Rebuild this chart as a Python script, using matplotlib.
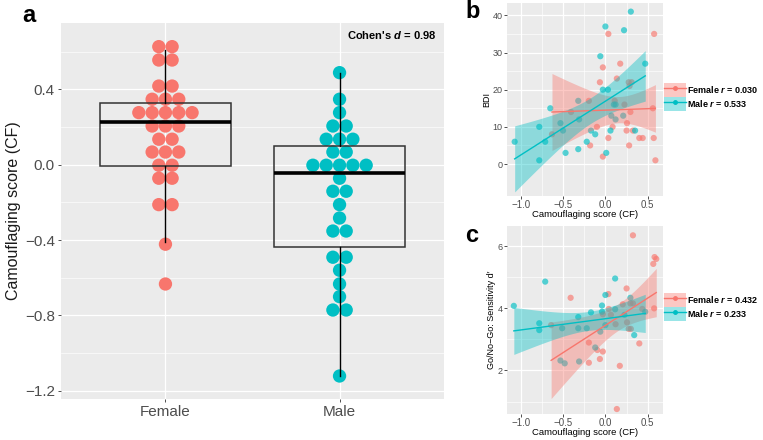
import matplotlib
matplotlib.use("Agg")
import matplotlib.pyplot as plt
from matplotlib.lines import Line2D
from matplotlib.patches import Patch
import numpy as np

plt.rcParams["font.family"] = ["Liberation Sans", "DejaVu Sans"]
plt.rcParams["mathtext.fontset"] = "custom"
plt.rcParams["mathtext.it"] = "Liberation Sans:italic:bold"
plt.rcParams["mathtext.rm"] = "Liberation Sans:bold"

FEMALE_C, MALE_C = "#F8766D", "#00BFC4"
BG, TICK_C = "#EBEBEB", "#4D4D4D"

# ---- panel a: CF score by sex (dotplot + boxplot) ----
groups = ["Female", "Male"]
female_cf = [0.626, 0.626, 0.555, 0.555, 0.417, 0.417, 0.347, 0.347, 0.347,
             0.276, 0.276, 0.276, 0.276, 0.276, 0.205, 0.205, 0.205, 0.135, 0.135,
             0.067, 0.067, 0.067, -0.003, -0.003, -0.072, -0.072, -0.212, -0.212,
             -0.422, -0.633]
male_cf = [0.488, 0.347, 0.276, 0.205, 0.205, 0.135, 0.135, 0.135, 0.067, 0.067,
           -0.003, -0.003, -0.003, -0.003, -0.003, -0.072, -0.141, -0.141, -0.212,
           -0.283, -0.352, -0.352, -0.491, -0.491, -0.560, -0.633, -0.700,
           -0.771, -0.771, -1.121]
box_q1 = [-0.005, -0.438]
box_med = [0.228, -0.042]
box_q3 = [0.326, 0.101]
whisk_lo = [-0.408, -1.121]
whisk_hi = [0.608, 0.488]
cohens_d = 0.98

# ---- panel b: BDI vs CF ----
female_cf_b = [-0.63, -0.405, -0.195, -0.18, -0.10, -0.065, -0.03, -0.03, 0.035, 0.035,
               0.085, 0.11, 0.135, 0.175, 0.225, 0.255, 0.25, 0.275, 0.285, 0.295,
               0.28, 0.31, 0.325, 0.40, 0.44, 0.575, 0.56, 0.57, 0.59]
female_bdi = [8, 14, 17, 5, 10, 22, 26, 2, 35, 7,
              10, 17, 23, 27, 16, 11, 9, 22, 21, 14,
              5, 22, 9, 7, 7, 35, 15, 7, 1]
male_cf_b = [-1.07, -0.78, -0.78, -0.71, -0.65, -0.53, -0.50, -0.47, -0.32, -0.31,
             -0.32, -0.17, -0.12, -0.22, -0.06, 0.0, -0.03, 0.03, 0.01, 0.07,
             0.12, 0.12, 0.06, 0.22, 0.21, 0.30, 0.35, 0.47, 0.10]
male_bdi = [6, 10, 1, 6, 15, 11, 9, 3, 17, 12,
            4, 9, 8, 6, 29, 37, 20, 20, 3, 13,
            12, 16, 9, 36, 13, 41, 9, 27, 16]
r_b = {"Female": 0.030, "Male": 0.533}

# ---- panel c: Go/No-Go sensitivity vs CF ----
female_cf_c = [-0.64, -0.41, -0.195, -0.195, -0.095, -0.065, -0.03, -0.03, 0.035, 0.04,
               0.065, 0.12, 0.17, 0.135, 0.205, 0.25, 0.255, 0.275, 0.30, 0.295,
               0.325, 0.325, 0.40, 0.435, 0.565, 0.58, 0.60, 0.575]
female_dprime = [3.46, 4.34, 2.90, 2.25, 2.66, 2.37, 2.61, 3.81, 4.46, 3.98,
                 3.79, 3.49, 2.15, 0.76, 4.13, 4.64, 3.55, 3.34, 3.34, 4.16,
                 6.35, 4.16, 2.87, 3.98, 5.43, 5.65, 5.59, 4.00]
male_cf_c = [-1.08, -0.78, -0.78, -0.71, -0.53, -0.48, -0.51, -0.32, -0.32, -0.31,
             -0.22, -0.17, -0.12, -0.06, -0.04, -0.04, 0.0, 0.0, 0.115, 0.115,
             0.225, 0.295, 0.34, 0.47]
male_dprime = [4.08, 3.52, 3.30, 4.86, 2.32, 2.23, 3.36, 3.72, 3.36, 2.29,
               3.36, 3.87, 2.74, 3.25, 4.09, 3.89, 4.43, 3.46, 4.96, 3.97,
               3.79, 4.34, 3.14, 3.89]
r_c = {"Female": 0.432, "Male": 0.233}

T95 = 2.05  # t quantile, df ~ 27


def fit_band(x, y):
    """OLS line + 95% CI of the mean (what geom_smooth(method='lm') draws)."""
    x, y = np.asarray(x, float), np.asarray(y, float)
    b1, b0 = np.polyfit(x, y, 1)
    grid = np.linspace(x.min(), x.max(), 80)
    fit = b0 + b1 * grid
    s = np.sqrt(np.sum((y - (b0 + b1 * x)) ** 2) / (len(x) - 2))
    se = s * np.sqrt(1 / len(x) + (grid - x.mean()) ** 2 / np.sum((x - x.mean()) ** 2))
    return grid, fit, fit - T95 * se, fit + T95 * se


def gg_axes(ax):
    ax.set_facecolor(BG)
    for sp in ax.spines.values():
        sp.set_visible(False)
    ax.set_axisbelow(True)
    ax.grid(which="major", color="white", lw=0.9)
    ax.grid(which="minor", color="white", lw=0.45)
    ax.tick_params(which="major", length=2.5, color="#333333", width=0.6, labelcolor=TICK_C, pad=1)
    ax.tick_params(which="minor", length=0)


W, H = 763, 440
fig = plt.figure(figsize=(W / 100, H / 100), dpi=100)


def px_axes(l, t, r, b):
    return fig.add_axes([l / W, 1 - b / H, (r - l) / W, (b - t) / H])


# panel a
ax = px_axes(61, 22.7, 444, 399)
gg_axes(ax)
DOT_W = 0.0765
for i, (vals, col) in enumerate([(female_cf, FEMALE_C), (male_cf, MALE_C)]):
    v, cnt = np.unique(np.round(vals, 3), return_counts=True)
    for yv, n in zip(v, cnt):
        xs = i + 1 + (np.arange(n) - (n - 1) / 2) * DOT_W
        ax.scatter(xs, np.full(n, yv), s=92, color=col, edgecolors="none", zorder=2)
stats = [dict(label=g, q1=box_q1[i], med=box_med[i], q3=box_q3[i],
              whislo=whisk_lo[i], whishi=whisk_hi[i], fliers=[]) for i, g in enumerate(groups)]
ax.bxp(stats, positions=[1, 2], widths=0.75, showfliers=False, patch_artist=True, zorder=3,
       boxprops=dict(facecolor="none", edgecolor="#333333", lw=1.1),
       medianprops=dict(color="black", lw=2.6, solid_capstyle="butt"),
       whiskerprops=dict(color="black", lw=1.0), capprops=dict(visible=False))
ax.set_xlim(0.4, 2.6)
ax.set_ylim(-1.243, 0.753)
yt = [-1.2, -0.8, -0.4, 0.0, 0.4]
ax.set_yticks(yt)
ax.set_yticklabels([f"{v:.1f}".replace("-", "\u2212") for v in yt])
ax.set_yticks([-1.0, -0.6, -0.2, 0.2, 0.6], minor=True)
ax.set_xticks([1, 2])
ax.set_xticklabels(groups)
ax.tick_params(labelsize=11, pad=2)
ax.set_ylabel("Camouflaging score (CF)", fontsize=11.5, color="#1A1A1A", labelpad=3)
ax.text(0.979, 0.967, f"Cohen's $d$ = {cohens_d:.2f}", transform=ax.transAxes,
        ha="right", va="center", fontsize=8, fontweight="bold")


def scatter_panel(ax, data, rvals, ylab, ylim, yt, yminor):
    gg_axes(ax)
    handles, labels = [], []
    for name, x, y, col in data:
        ax.scatter(x, y, s=20, color=col, alpha=0.65, edgecolors="none", zorder=2)
    for name, x, y, col in data:
        g, f, lo, hi = fit_band(x, y)
        ax.fill_between(g, lo, hi, color=col, alpha=0.4, lw=0, zorder=3)
        ax.plot(g, f, color=col, lw=1.0, zorder=4)
        handles.append((Patch(facecolor=col, alpha=0.4, lw=0),
                        Line2D([], [], color=col, lw=1.0, marker="o", ms=2.5)))
        labels.append(f"{name} $r$ = {rvals[name]:.3f}")
    ax.set_xlim(-1.157, 0.676)
    ax.set_xticks([-1.0, -0.5, 0.0, 0.5])
    ax.set_xticklabels([f"{v:.1f}".replace("-", "\u2212") for v in [-1.0, -0.5, 0.0, 0.5]])
    ax.set_xticks([-0.75, -0.25, 0.25], minor=True)
    ax.set_ylim(*ylim)
    ax.set_yticks(yt)
    ax.set_yticks(yminor, minor=True)
    ax.tick_params(axis="x", labelsize=7, pad=0.5)
    ax.tick_params(axis="y", labelsize=6.5)
    ax.set_xlabel("Camouflaging score (CF)", fontsize=6.8, labelpad=0)
    ax.set_ylabel(ylab, fontsize=6.5, labelpad=1)
    ax.legend(handles, labels, loc="center left", frameon=False,
              prop=dict(size=6.5, weight="bold"), handlelength=2.4, handleheight=2.0,
              handletextpad=0.15, labelspacing=0.0, borderaxespad=0.05, borderpad=0.1)
    return ax.get_legend()


# panel b
axb = px_axes(507.3, 2.7, 662.7, 196)
leg = scatter_panel(axb, [("Female", female_cf_b, female_bdi, FEMALE_C),
                          ("Male", male_cf_b, male_bdi, MALE_C)],
                    r_b, "BDI", (-8.6, 43.4), [0, 10, 20, 30, 40], [5, 15, 25, 35])
leg.set_bbox_to_anchor((1.0, 0.51), transform=axb.transAxes)

# panel c
axc = px_axes(507.3, 226, 662.7, 414)
leg = scatter_panel(axc, [("Female", female_cf_c, female_dprime, FEMALE_C),
                          ("Male", male_cf_c, male_dprime, MALE_C)],
                    r_c, "Go/No\u2212Go: Sensitivity d\u2032", (0.6, 6.65), [2, 4, 6], [1, 3, 5])
leg.set_bbox_to_anchor((1.0, 0.57), transform=axc.transAxes)

for lab, (x, y) in zip("abc", [(29, 15), (473, 12), (472, 235)]):
    fig.text(x / W, 1 - y / H, lab, fontsize=17, fontweight="bold", ha="center", va="center")

fig.savefig("out.png", dpi=100)
